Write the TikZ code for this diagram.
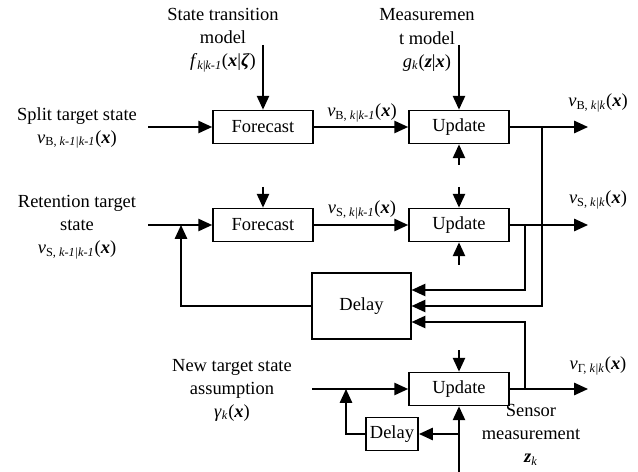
\documentclass[tikz,border=0pt]{standalone}
\usepackage{fontspec}
\setmainfont{Liberation Serif}
\usetikzlibrary{arrows.meta}
\newcommand{\bx}{\textbf{\textit{x}}}
\newcommand{\dens}[2]{\textit{v}\textsubscript{#1, \textit{#2}}(\bx)}
\begin{document}
\begin{tikzpicture}[
        x=0.65pt, y=-0.65pt, line width=1.1pt,
        >={Triangle[length=9pt,width=8pt]},
        block/.style={rectangle, draw, minimum width=65pt, minimum height=21.5pt,
                      inner sep=0pt, font=\fontsize{12}{14}\selectfont},
        lbl/.style={align=center, inner sep=0pt, font=\fontsize{12}{15}\selectfont}
    ]
        \useasboundingbox (0,0) rectangle (638,472);

        % processing blocks
        \node[block] (fc1) at (263,127) {Forecast};
        \node[block] (fc2) at (263,225) {Forecast};
        \node[block] (up1) at (459,127) {Update};
        \node[block] (up2) at (459,225) {Update};
        \node[block] (up3) at (459,389) {Update};
        \node[block, minimum width=64pt, minimum height=43pt] (dl) at (361.5,306) {Delay};
        \node[block, minimum width=34pt] (dl2) at (392,434) {Delay};

        % texts
        \node[lbl] (stm) at (223,40) {State transition\\model\\\textit{f}\textsubscript{\textit{k}|\textit{k-1}}(\bx|\textbf{\textit{ζ}})};
        \node[lbl] (mm) at (427,40) {Measuremen\\t model\\\textit{g}\textsubscript{\textit{k}}(\textbf{\textit{z}}|\bx)};
        \node[lbl] (split) at (77,128) {Split target state\\\dens{B}{k-1|k-1}};
        \node[lbl] (ret) at (77,227) {Retention target\\state\\\dens{S}{k-1|k-1}};
        \node[lbl] (newt) at (232,390) {New target state\\assumption\\\textit{γ}\textsubscript{\textit{k}}(\bx)};
        \node[lbl] (sens) at (531,435) {Sensor\\measurement\\\textbf{\textit{z}}\textsubscript{\textit{k}}};
        \node[lbl] (pB) at (362,113) {\dens{B}{k|k-1}};
        \node[lbl] (pS) at (362,210) {\dens{S}{k|k-1}};
        \node[lbl] (oB) at (598,103) {\dens{B}{k|k}};
        \node[lbl] (oS) at (598,200) {\dens{S}{k|k}};
        \node[lbl] (oG) at (598,366) {\dens{Γ}{k|k}};

        % free ends
        \coordinate (stmin) at (263,45);
        \coordinate (mmin) at (459,45);
        \coordinate (splitin) at (148,127);
        \coordinate (retin) at (148,225);
        \coordinate (newin) at (312,389);
        \coordinate (o1) at (588,127);
        \coordinate (o2) at (588,225);
        \coordinate (o3) at (588,389);
        \coordinate (j1) at (542,127);
        \coordinate (j2) at (525,225);
        \coordinate (j3) at (525,389);
        \coordinate (fb) at (181,225);
        \coordinate (fb2) at (346,389);
        \coordinate (zin) at (459,472);
        \coordinate (zb) at (459,434);
        \coordinate (m1) at (459,165);
        \coordinate (m2) at (459,187);
        \coordinate (m3) at (263,187);
        \coordinate (m4) at (459,265);
        \coordinate (m5) at (459,350);

        \draw[->] (stmin) -- (fc1);
        \draw[->] (mmin) -- (up1);
        \draw[->] (splitin) -- (fc1);
        \draw[->] (retin) -- (fc2);
        \draw[->] (newin) -- (up3);
        \draw[->] (fc1) -- (up1);
        \draw[->] (fc2) -- (up2);
        \draw[->] (up1.east) -- (o1);
        \draw[->] (up2.east) -- (o2);
        \draw[->] (up3.east) -- (o3);
        \draw[->] (m1) -- (up1.south);
        \draw[->] (m2) -- (up2.north);
        \draw[->] (m3) -- (fc2.north);
        \draw[->] (m4) -- (up2.south);
        \draw[->] (m5) -- (up3.north);

        % feedback through the delays
        \draw[->] (j1) |- (dl.east);
        \draw[->] (j2) |- ([yshift=10.4pt]dl.east);
        \draw[->] (j3) |- ([yshift=-10.4pt]dl.east);
        \draw[->] (dl.west) -| (fb);
        \draw[->] (zin) -- (up3.south);
        \draw[->] (zb) -- (dl2.east);
        \draw[->] (dl2.west) -| (fb2);
    \end{tikzpicture}
\end{document}
